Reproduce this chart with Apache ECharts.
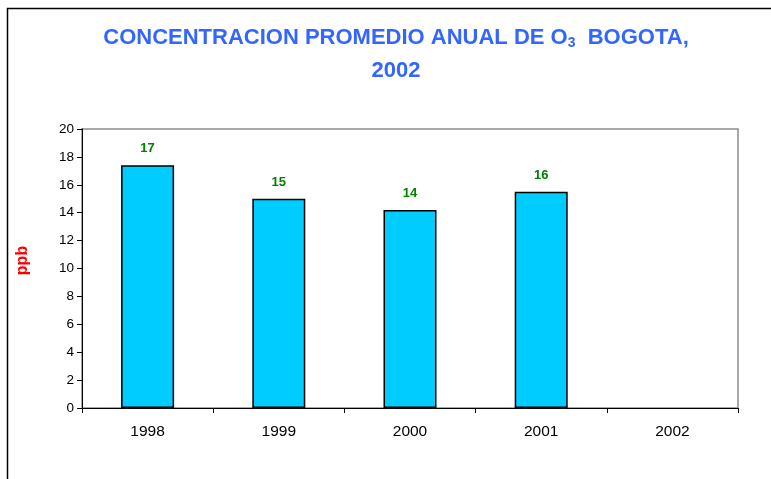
<!DOCTYPE html>
<html>
<head>
<meta charset="utf-8">
<script src="https://cdn.jsdelivr.net/npm/echarts@6/dist/echarts.min.js"></script>
<style>
  html, body { margin: 0; padding: 0; background: #fff; }
  #chart { width: 771px; height: 479px; }
</style>
</head>
<body>
<div id="chart"></div>
<script>
// años y concentración promedio (ppb)
const years = ['1998', '1999', '2000', '2001', '2002'];
const ozone = [17.4, 15.0, 14.2, 15.5, null];
const yTicks = { min: 0, max: 20, interval: 2 };

const myChart = echarts.init(document.getElementById('chart'));

const option = {
  backgroundColor: '#fff',
  animation: false,
  title: {
    left: 391,
    top: 16,
    textAlign: 'center',
    text: '{a|CONCENTRACION PROMEDIO ANUAL DE O}{s|3}{a|  BOGOTA,}\n{a|2002}',
    textStyle: {
      rich: {
        a: {
          fontFamily: '"Liberation Sans", Arial, sans-serif',
          fontWeight: 'bold',
          fontSize: 22,
          color: '#3366FF',
          lineHeight: 33
        },
        s: {
          fontFamily: '"Liberation Sans", Arial, sans-serif',
          fontWeight: 'bold',
          fontSize: 14,
          color: '#3366FF',
          padding: [12, 0, 0, 0],
          lineHeight: 33
        }
      }
    }
  },
  grid: {
    left: 82,
    right: 33,
    top: 129,
    bottom: 71,
    show: true,
    borderColor: '#8c8c8c',
    borderWidth: 1.5
  },
  xAxis: {
    type: 'category',
    data: years,
    axisLine: { lineStyle: { color: '#000', width: 1 } },
    axisTick: { show: true, length: 5, lineStyle: { color: '#000' } },
    axisLabel: {
      color: '#000',
      fontFamily: '"Liberation Sans", Arial, sans-serif',
      fontSize: 15.5,
      margin: 16
    }
  },
  yAxis: {
    type: 'value',
    min: yTicks.min,
    max: yTicks.max,
    interval: yTicks.interval,
    name: 'ppb',
    nameLocation: 'middle',
    nameGap: 51,
    nameTextStyle: {
      color: '#FF0000',
      fontWeight: 'bold',
      fontSize: 16,
      fontFamily: '"Liberation Sans", Arial, sans-serif',
      padding: [0, 0, 0, 16]
    },
    splitLine: { show: false },
    axisLine: { show: true, lineStyle: { color: '#000', width: 1 } },
    axisTick: { show: true, length: 5, lineStyle: { color: '#000' } },
    axisLabel: {
      color: '#000',
      fontFamily: '"Liberation Sans", Arial, sans-serif',
      fontSize: 13.5,
      margin: 8
    }
  },
  series: [
    {
      type: 'bar',
      data: ozone,
      barWidth: 53,
      itemStyle: {
        color: '#00CCFF',
        borderColor: '#000',
        borderWidth: 1.5
      },
      label: {
        show: true,
        position: 'top',
        distance: 10,
        color: '#008000',
        fontWeight: 'bold',
        fontSize: 13,
        fontFamily: '"Liberation Sans", Arial, sans-serif',
        formatter: p => (p.value == null ? '' : Math.round(p.value))
      }
    }
  ],
  graphic: [
    {
      type: 'polyline',
      shape: { points: [[7.5, 479], [7.5, 8.5], [771, 8.5]] },
      style: { stroke: '#000', lineWidth: 1.5, fill: null }
    }
  ]
};

myChart.setOption(option);
</script>
</body>
</html>
